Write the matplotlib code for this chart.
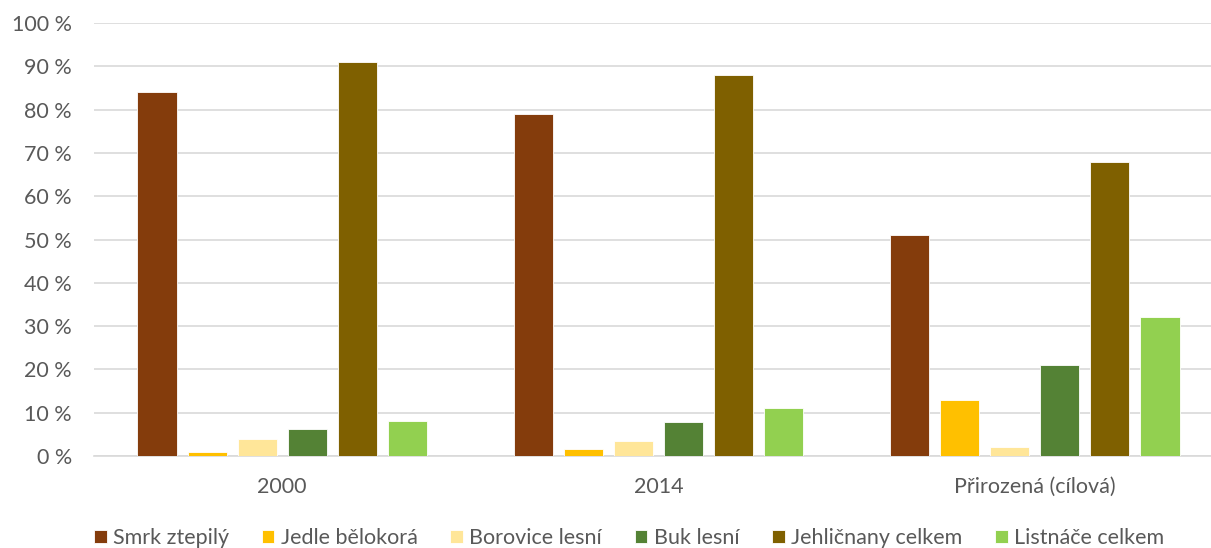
import matplotlib
matplotlib.use("Agg")
import matplotlib.pyplot as plt
import numpy as np

plt.rcParams['font.family'] = ['Lato', 'DejaVu Sans']

categories = ['2000', '2014', 'Přirozená (cílová)']
species = ['Smrk ztepilý', 'Jedle bělokorá', 'Borovice lesní', 'Buk lesní',
           'Jehličnany celkem', 'Listnáče celkem']
smrk = [84, 79, 51]
jedle = [1, 1.6, 13]
borovice = [3.9, 3.5, 2.1]
buk = [6.2, 7.8, 21]
jehlicnany = [91, 88, 68]
listnace = [8, 11.2, 32]
series = [smrk, jedle, borovice, buk, jehlicnany, listnace]
colors = ['#843C0C', '#FFC000', '#FFE699', '#548235', '#7F6000', '#92D050']

fig = plt.figure(figsize=(12.11, 5.48), dpi=100)
ax = fig.add_axes([94 / 1211, 1 - 456 / 548, 1129 / 1211, 433 / 548])

x = np.arange(len(categories))
width = 0.104
step = 0.133
for i, (vals, name, c) in enumerate(zip(series, species, colors)):
    ax.bar(x + (i - 2.5) * step, vals, width, color=c, label=name,
           edgecolor='white', linewidth=0.6, zorder=3)

ax.set_xlim(-0.5, 2.5)
ax.set_ylim(0, 100)
ax.set_yticks(np.arange(0, 101, 10))
ax.set_yticklabels([f'{v} %' for v in range(0, 101, 10)])
ax.set_xticks(x)
ax.set_xticklabels(categories)
ax.grid(axis='y', color='#D9D9D9', linewidth=1.2, zorder=0)
for s in ['top', 'right', 'left']:
    ax.spines[s].set_visible(False)
ax.spines['bottom'].set_color('#D9D9D9')
ax.spines['bottom'].set_linewidth(1.2)
ax.tick_params(axis='both', length=0, labelsize=15.5, colors='#595959')
ax.tick_params(axis='y', pad=16)
ax.tick_params(axis='x', pad=15)

fig.legend(loc='center', bbox_to_anchor=(629 / 1211, 1 - 538 / 548), ncol=6,
           frameon=False, fontsize=15.5, labelcolor='#595959',
           handlelength=0.6, handleheight=0.6, handletextpad=0.3,
           columnspacing=1.5)

fig.savefig('out.png', dpi=100)
